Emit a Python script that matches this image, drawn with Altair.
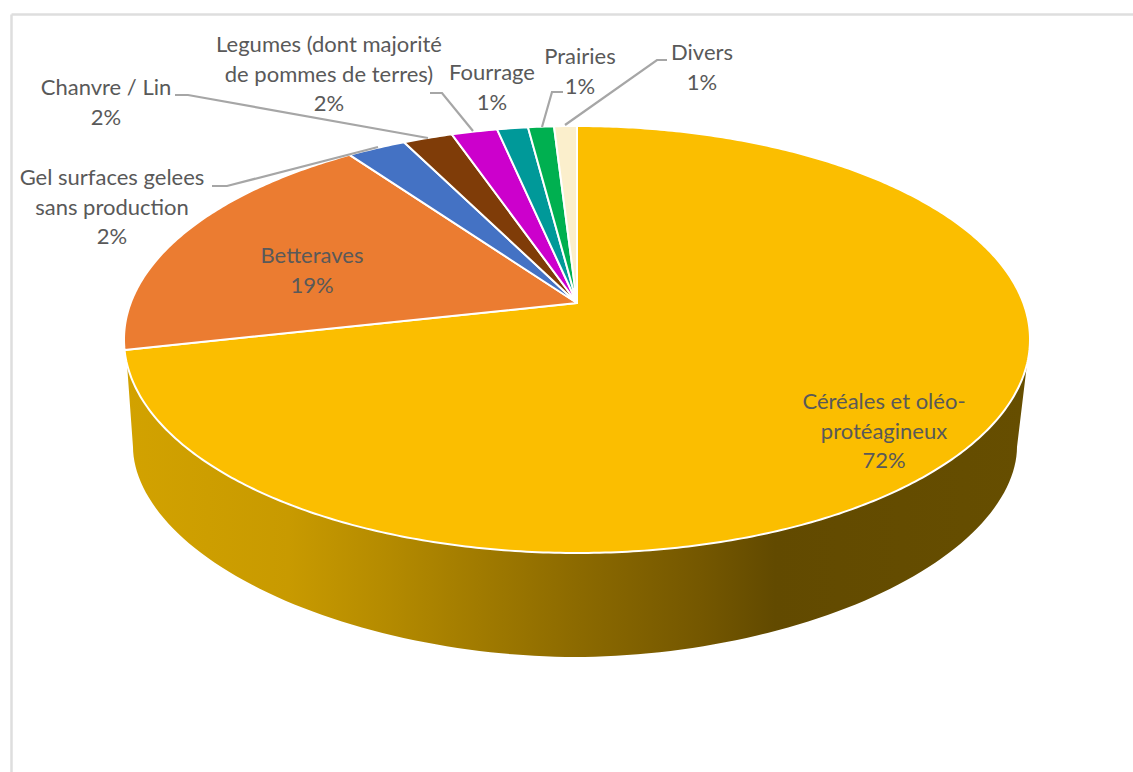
import math
import altair as alt

# Land use shares, clockwise from twelve o'clock (percent)
categories = [
    "Céréales et oléo-protéagineux", "Betteraves", "Gel surfaces gelees sans production",
    "Chanvre / Lin", "Legumes (dont majorité de pommes de terres)", "Fourrage", "Prairies", "Divers",
]
shares = [71.5, 18.64, 2.49, 2.09, 1.93, 1.30, 1.09, 0.96]
colors = ["#FBBE00", "#EB7C31", "#4472C4", "#7F3C08", "#CC00CC", "#009999", "#00B050", "#FBEFCC"]

# Label text lines per category, with the percentage added from the shares
label_lines = [
    ["Céréales et oléo-", "protéagineux"], ["Betteraves"], ["Gel surfaces gelees", "sans production"],
    ["Chanvre / Lin"], ["Legumes (dont majorité", "de pommes de terres)"], ["Fourrage"], ["Prairies"], ["Divers"],
]
label_centres = [(884, 402), (312, 256), (112, 178), (106, 88), (329, 45), (492, 73), (580, 57), (702, 53)]
LINE_STEP = 29.5

# Leader lines from a label to its slice
leaders = [
    [(212, 186), (227, 186), (378, 147)],
    [(175, 95), (188, 95), (428, 138)],
    [(430, 93), (442, 93), (473, 131)],
    [(563, 92), (552, 92), (542, 127)],
    [(667, 60), (657, 60), (565, 125)],
]

# Tilted disc geometry: the top face is a circle seen in perspective, so the
# apex sits above the centre of the rim ellipse.
CX, TOP, BOTTOM, APEX_Y, HALF_W = 577.0, 126.0, 553.0, 303.0, 453.0
c = (2 * APEX_Y - TOP - BOTTOM) / (BOTTOM - TOP)
a = BOTTOM + BOTTOM * c - APEX_Y
k = HALF_W * math.sqrt(1 - c * c)


def rim(share_pos):
    """Pixel position on the rim for a cumulative percentage."""
    t = 2 * math.pi * share_pos / 100
    u = -math.cos(t)
    d = 1 + c * u
    return [CX + k * math.sin(t) / d, (a * u + APEX_Y) / d]


slices = []
acc = 0.0
for name, share in zip(categories, shares):
    steps = max(4, int(share * 6))
    ring = [[CX, APEX_Y]] + [rim(acc + share * i / steps) for i in range(steps + 1)] + [[CX, APEX_Y]]
    slices.append({
        "type": "Feature",
        "properties": {"name": name},
        "geometry": {"type": "Polygon", "coordinates": [ring]},
    })
    acc += share

# Side wall: lower half of the rim joined to a slightly flattened curve below it
ELL_CY = (TOP + BOTTOM) / 2
ELL_B = (BOTTOM - TOP) / 2
WALL_CX, WALL_CY, WALL_A, WALL_B, WALL_P = 575.0, 447.0, 442.0, 210.0, 1.9
WALL_Y0 = 364.0
s0 = math.asin((WALL_Y0 - ELL_CY) / ELL_B)
wall_ring = []
for i in range(121):
    p = math.pi - s0 - (math.pi - 2 * s0) * i / 120
    wall_ring.append([CX + HALF_W * math.cos(p), ELL_CY + ELL_B * math.sin(p)])
for i in range(121):
    p = math.pi * i / 120
    cp, sp = math.cos(p), math.sin(p)
    wall_ring.append([
        WALL_CX + WALL_A * math.copysign(abs(cp) ** (2 / WALL_P), cp),
        WALL_CY + WALL_B * abs(sp) ** (2 / WALL_P),
    ])
wall_ring.append(wall_ring[0])
wall_feature = {
    "type": "Feature",
    "properties": {"name": "wall"},
    "geometry": {"type": "Polygon", "coordinates": [wall_ring]},
}

wall = (
    alt.Chart(alt.InlineData(values={"type": "FeatureCollection", "features": [wall_feature]},
                             format=alt.DataFormat(property="features", type="json")))
    .mark_geoshape(
        strokeWidth=0,
        fill=alt.Gradient(
            gradient="linear", x1=0, y1=0, x2=1, y2=0,
            stops=[
                alt.GradientStop(offset=0.0, color="#D2A200"),
                alt.GradientStop(offset=0.18, color="#C89A00"),
                alt.GradientStop(offset=0.28, color="#B68C00"),
                alt.GradientStop(offset=0.50, color="#8C6A00"),
                alt.GradientStop(offset=0.64, color="#745700"),
                alt.GradientStop(offset=0.72, color="#624A00"),
                alt.GradientStop(offset=1.0, color="#664E00"),
            ],
        ),
    )
    .project(type="identity", scale=1, translate=[0, 0])
)

top = (
    alt.Chart(alt.InlineData(values={"type": "FeatureCollection", "features": slices},
                             format=alt.DataFormat(property="features", type="json")))
    .mark_geoshape(stroke="white", strokeWidth=2, strokeJoin="round")
    .encode(color=alt.Color("properties.name:N", scale=alt.Scale(domain=categories, range=colors), legend=None))
    .project(type="identity", scale=1, translate=[0, 0])
)

# Chart frame along the top and left edges
frame_rows = [
    {"id": "left", "x": 11.5, "y": 772}, {"id": "left", "x": 11.5, "y": 14.5},
    {"id": "top", "x": 11.5, "y": 14.5}, {"id": "top", "x": 1133, "y": 14.5},
]
frame = (
    alt.Chart(alt.Data(values=frame_rows))
    .mark_line(color="#DEDEDE", strokeWidth=2.5)
    .encode(x=alt.X("x:Q", scale=None), y=alt.Y("y:Q", scale=None), detail="id:N", order=alt.Order("y:Q"))
)

leader_rows = []
for i, path in enumerate(leaders):
    for j, (x, y) in enumerate(path):
        leader_rows.append({"id": i, "step": j, "x": x, "y": y})
leader_lines = (
    alt.Chart(alt.Data(values=leader_rows))
    .mark_line(color="#A6A6A6", strokeWidth=2.2)
    .encode(x=alt.X("x:Q", scale=None), y=alt.Y("y:Q", scale=None), detail="id:N", order=alt.Order("step:Q"))
)

text_rows = []
for lines, share, (x, y) in zip(label_lines, shares, label_centres):
    for j, line in enumerate(lines + [f"{round(share)}%"]):
        text_rows.append({"label": line, "x": x, "y": y + j * LINE_STEP})
labels = (
    alt.Chart(alt.Data(values=text_rows))
    .mark_text(font="Lato", fontSize=22, color="#595959", align="center", baseline="middle")
    .encode(x=alt.X("x:Q", scale=None), y=alt.Y("y:Q", scale=None), text="label:N")
)

chart = (
    alt.layer(frame, wall, top, leader_lines, labels)
    .properties(width=1133, height=772, padding=0, background="white", autosize=alt.AutoSizeParams(type="none"))
    .configure_view(stroke=None)
)

chart.save("out.html", embed_options={"renderer": "svg", "actions": False})
